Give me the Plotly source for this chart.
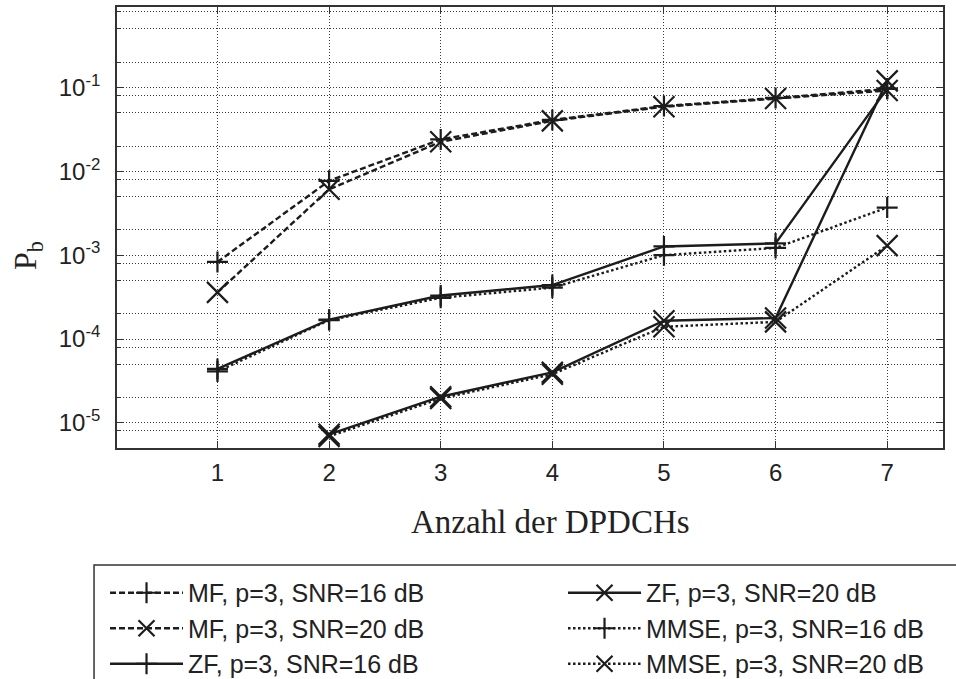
import plotly.graph_objects as go

# Number of DPDCHs on the x axis
n_dpdch = [1, 2, 3, 4, 5, 6, 7]

# Bit error probability per receiver / SNR
mf_snr16 = [8.3e-4, 7.7e-3, 2.4e-2, 4.1e-2, 6.0e-2, 7.5e-2, 9.6e-2]
mf_snr20 = [3.6e-4, 6.1e-3, 2.25e-2, 4.0e-2, 5.9e-2, 7.4e-2, 9.2e-2]
zf_snr16 = [4.4e-5, 1.7e-4, 3.3e-4, 4.4e-4, 1.27e-3, 1.38e-3, 9.7e-2]
zf_snr20 = [None, 7.3e-6, 2.05e-5, 4.0e-5, 1.65e-4, 1.78e-4, 1.2e-1]
mmse_snr16 = [4.1e-5, 1.68e-4, 3.1e-4, 4.1e-4, 1.0e-3, 1.22e-3, 3.7e-3]
mmse_snr20 = [None, 6.9e-6, 1.95e-5, 3.8e-5, 1.4e-4, 1.6e-4, 1.3e-3]

# Axis ticks
x_ticks = [1, 2, 3, 4, 5, 6, 7]
decade_exps = [-6, -5, -4, -3, -2, -1, 0]
minor_mults = [2, 5, 8]

INK = "#1c1c1c"
FRAME = "#333333"
GRID = "#3a3a3a"

series = [
    # name, values, dash, symbol, size, legend rank
    ("MF, p=3, SNR=16 dB", mf_snr16, "6px,3px", "cross-thin", 15, 1),
    ("MF, p=3, SNR=20 dB", mf_snr20, "6px,3px", "x-thin", 21, 3),
    ("ZF, p=3, SNR=16 dB", zf_snr16, "solid", "cross-thin", 15, 5),
    ("ZF, p=3, SNR=20 dB", zf_snr20, "solid", "x-thin", 21, 2),
    ("MMSE, p=3, SNR=16 dB", mmse_snr16, "2.5px,2.5px", "cross-thin", 15, 4),
    ("MMSE, p=3, SNR=20 dB", mmse_snr20, "2.5px,2.5px", "x-thin", 21, 6),
]

fig = go.Figure()
for name, vals, dash, symbol, size, rank in series:
    fig.add_trace(go.Scatter(
        x=n_dpdch, y=vals, name=name, mode="lines+markers",
        line=dict(color=INK, width=2.4, dash=dash),
        marker=dict(symbol=symbol, size=size, color=INK,
                    line=dict(color=INK, width=2.2)),
        legendrank=rank, connectgaps=False,
    ))

major_vals = [10.0 ** e for e in decade_exps]
major_text = ["10<sup>%d</sup>" % e for e in decade_exps]
minor_vals = [m * 10.0 ** e for e in decade_exps for m in minor_mults]

tick_font = dict(family="Liberation Sans, Arial, sans-serif", size=24, color="#222")

fig.update_layout(
    width=956, height=679,
    margin=dict(l=117, r=13, t=7, b=231, autoexpand=False),
    paper_bgcolor="white", plot_bgcolor="white",
    showlegend=True,
    legend=dict(
        orientation="h", x=-0.0145, y=-0.2766, xanchor="left", yanchor="top",
        entrywidth=370, entrywidthmode="pixels", itemwidth=73,
        font=dict(family="Liberation Sans, Arial, sans-serif", size=25, color="#222"),
        bgcolor="rgba(0,0,0,0)", borderwidth=0,
    ),
    xaxis=dict(
        range=[0.1, 7.5], tickmode="array", tickvals=x_ticks,
        ticktext=[str(v) for v in x_ticks],
        showgrid=True, gridcolor=GRID, gridwidth=1, griddash="1px,2px",
        ticks="inside", ticklen=7, tickwidth=1.2, tickcolor=FRAME,
        showline=True, linecolor=FRAME, linewidth=1.6, mirror="ticks",
        zeroline=False, tickfont=tick_font, ticklabelstandoff=2,
    ),
    yaxis=dict(
        type="log", range=[-5.3, -0.04],
        tickmode="array", tickvals=major_vals, ticktext=major_text,
        showgrid=True, gridcolor=GRID, gridwidth=1, griddash="1px,2px",
        ticks="inside", ticklen=7, tickwidth=1.2, tickcolor=FRAME,
        showline=True, linecolor=FRAME, linewidth=1.6, mirror="ticks",
        zeroline=False, tickfont=tick_font, ticklabelstandoff=10,
        minor=dict(tickvals=minor_vals, ticks="inside", ticklen=4,
                   tickcolor=FRAME, tickwidth=1, showgrid=True,
                   gridcolor=GRID, gridwidth=1, griddash="1px,2px"),
    ),
    annotations=[
        dict(text="Anzahl der DPDCHs", xref="paper", yref="paper",
             x=0.525, y=-0.168, xanchor="center", yanchor="middle",
             showarrow=False,
             font=dict(family="Liberation Serif, Times New Roman, serif",
                       size=33, color="#222")),
        dict(text="P<sub>b</sub>", xref="paper", yref="paper",
             x=-0.109, y=0.4376, xanchor="center", yanchor="middle",
             textangle=-90, showarrow=False,
             font=dict(family="Liberation Serif, Times New Roman, serif",
                       size=32, color="#222")),
    ],
    shapes=[
        # legend frame, running past the right and bottom page edges
        dict(type="rect", xref="paper", yref="paper",
             x0=-0.0278, x1=1.08, y0=-0.2653, y1=-0.60,
             line=dict(color=FRAME, width=1.5), fillcolor="rgba(0,0,0,0)"),
    ],
)

fig.write_html("out.html")
